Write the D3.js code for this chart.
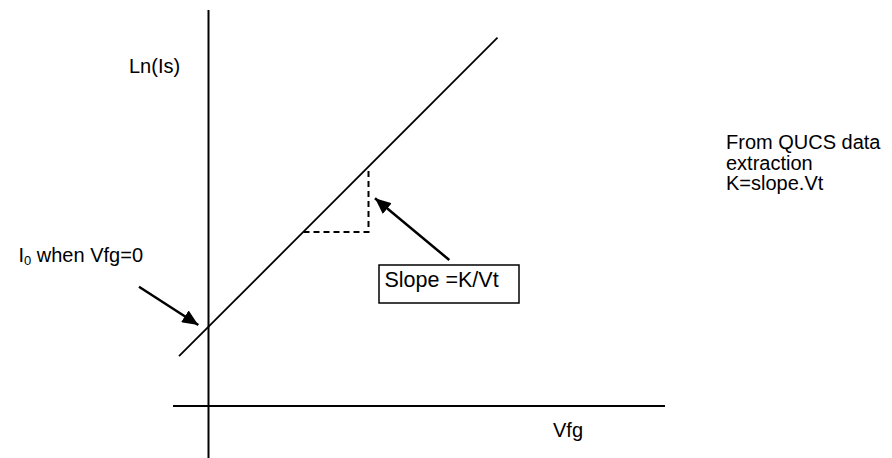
<!DOCTYPE html>
<html>
<head>
<meta charset="utf-8">
<script src="https://cdn.jsdelivr.net/npm/d3@7"></script>
<style>
  html, body { margin: 0; padding: 0; background: #fff; }
  svg { display: block; }
  text { font-family: "Liberation Sans", Arial, sans-serif; fill: #000; }
</style>
</head>
<body>
<script>
// Schematic coordinate system (arbitrary units): Vfg along x, Ln(Is) along y
const xAxisSpan = [-3.55, 45.65];        // Vfg axis extent
const yAxisSpan = [-5.2, 39.6];          // Ln(Is) axis extent
const lineVfg = [-2.95, 28.9];           // fitted line end points (Vfg)
const lineLnIs = [4.98, 36.83];          // fitted line end points (Ln Is)
const triVfg = [9.5, 16.0, 16.0];        // slope triangle: run start, corner, rise top
const triLnIs = [17.4, 17.4, 23.9];
const arrowSlope = { from: [24.08, 14.6], to: [16.65, 20.77] };
const arrowI0 = { from: [-6.95, 11.93], to: [-1.02, 8.1] };
const slopeBox = { v: [17.05, 31.05], u: [10.3, 14.1] };
const labels = [
  { text: "Ln(Is)", v: -7.95, u: 33.3, size: 20 },
  { text: "Vfg", v: 34.45, u: -3.1, size: 20 },
  { text: "Slope =K/Vt", v: 17.6, u: 11.9, size: 21.5 }
];
const noteLines = ["From QUCS data", "extraction", "K=slope.Vt"];
const notePos = { v: 51.75, u: 25.7 };
const i0Label = { main: "I", sub: "0", rest: " when Vfg=0", v: -6.55, u: 14.4 };

const W = 892, H = 458;
const x = d3.scaleLinear().domain([0, 1]).range([208.5, 218.5]);
const y = d3.scaleLinear().domain([0, 1]).range([406, 396]);

const svg = d3.select("body").append("svg").attr("width", W).attr("height", H);

const defs = svg.append("defs");
defs.append("marker")
  .attr("id", "ah")
  .attr("markerUnits", "userSpaceOnUse")
  .attr("viewBox", "0 0 16 14")
  .attr("refX", 16).attr("refY", 7)
  .attr("markerWidth", 16).attr("markerHeight", 14)
  .attr("orient", "auto")
  .append("path").attr("d", "M0,0 L16,7 L0,14 Z").attr("fill", "#000");

// axes
svg.append("line")
  .attr("x1", x(0)).attr("x2", x(0))
  .attr("y1", y(yAxisSpan[0])).attr("y2", y(yAxisSpan[1]))
  .attr("stroke", "#000").attr("stroke-width", 2);
svg.append("line")
  .attr("x1", x(xAxisSpan[0])).attr("x2", x(xAxisSpan[1]))
  .attr("y1", y(0)).attr("y2", y(0))
  .attr("stroke", "#000").attr("stroke-width", 2);

// fitted line
svg.append("path")
  .datum(lineVfg.map((v, i) => [v, lineLnIs[i]]))
  .attr("d", d3.line().x(d => x(d[0])).y(d => y(d[1])))
  .attr("fill", "none").attr("stroke", "#000").attr("stroke-width", 1.8);

// slope triangle (dashed)
svg.append("path")
  .datum(triVfg.map((v, i) => [v, triLnIs[i]]))
  .attr("d", d3.line().x(d => x(d[0])).y(d => y(d[1])))
  .attr("fill", "none").attr("stroke", "#000").attr("stroke-width", 2)
  .attr("stroke-dasharray", "6,4");

// arrows
[arrowSlope, arrowI0].forEach(a => {
  svg.append("line")
    .attr("x1", x(a.from[0])).attr("y1", y(a.from[1]))
    .attr("x2", x(a.to[0])).attr("y2", y(a.to[1]))
    .attr("stroke", "#000").attr("stroke-width", 2.5)
    .attr("marker-end", "url(#ah)");
});

// slope box
svg.append("rect")
  .attr("x", x(slopeBox.v[0])).attr("y", y(slopeBox.u[1]))
  .attr("width", x(slopeBox.v[1]) - x(slopeBox.v[0]))
  .attr("height", y(slopeBox.u[0]) - y(slopeBox.u[1]))
  .attr("fill", "#fff").attr("stroke", "#000").attr("stroke-width", 1.5);

// labels
labels.forEach(l => {
  svg.append("text").attr("x", x(l.v)).attr("y", y(l.u))
    .attr("font-size", l.size).text(l.text);
});

const i0 = svg.append("text").attr("x", x(i0Label.v)).attr("y", y(i0Label.u))
  .attr("font-size", 20).attr("text-anchor", "end");
i0.append("tspan").text(i0Label.main);
i0.append("tspan").attr("font-size", 13).attr("dy", 3).text(i0Label.sub);
i0.append("tspan").attr("dy", -3).text(i0Label.rest);

const note = svg.append("text").attr("x", x(notePos.v)).attr("y", y(notePos.u)).attr("font-size", 20);
noteLines.forEach((t, i) => {
  note.append("tspan").attr("x", x(notePos.v)).attr("dy", i === 0 ? 0 : 20.5).text(t);
});
</script>
</body>
</html>
